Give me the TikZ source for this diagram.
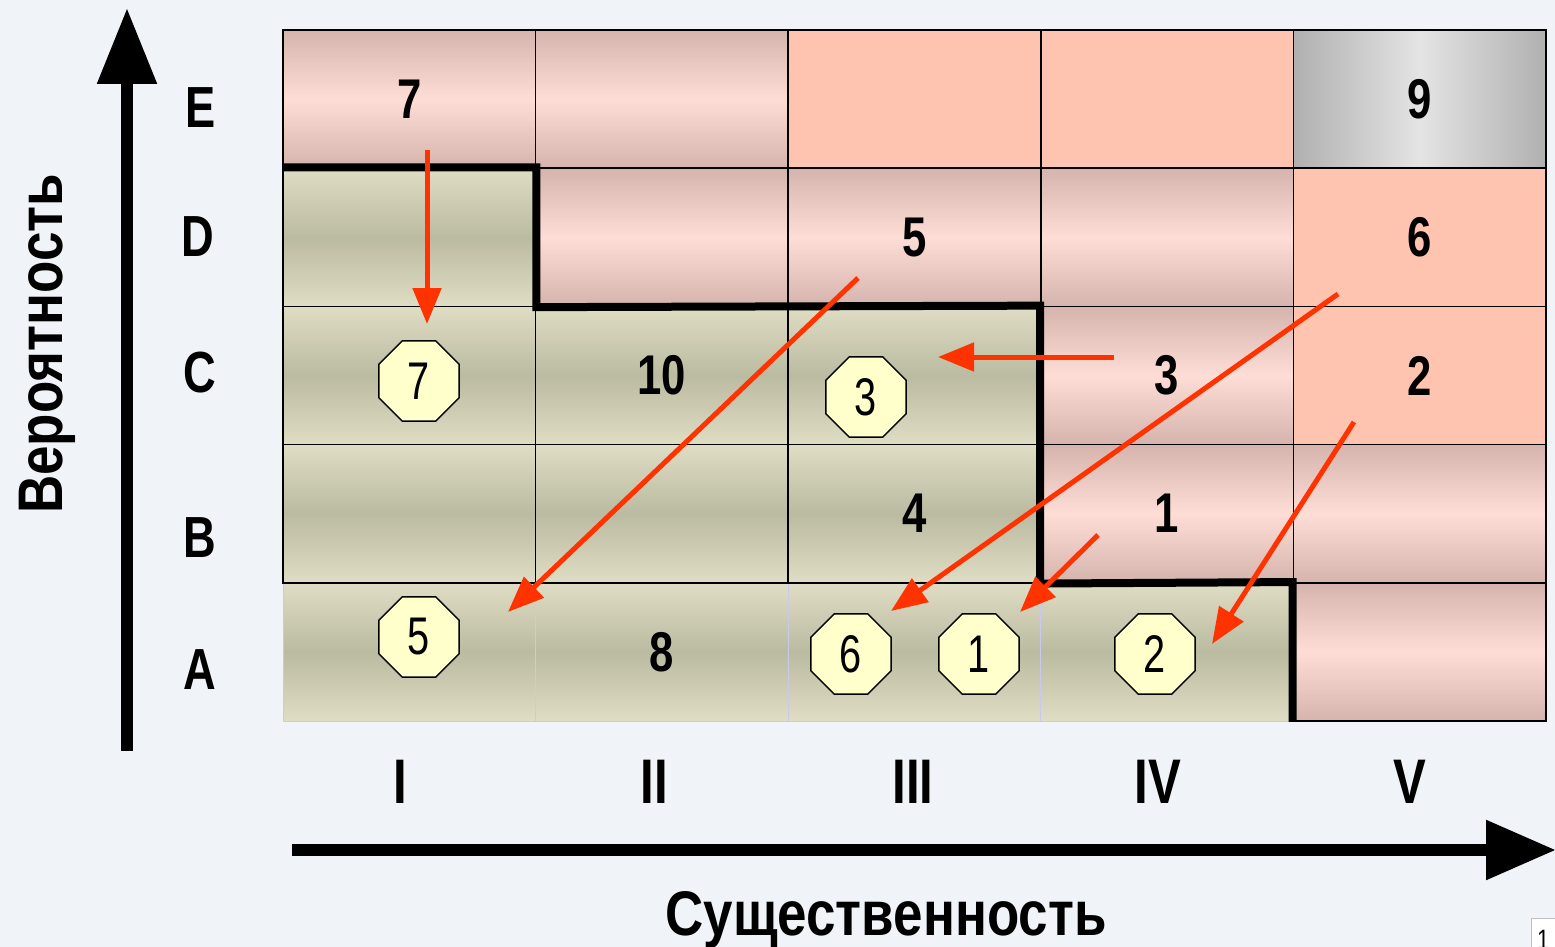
\documentclass[tikz,border=0pt]{standalone}
\usepackage{fontspec}
\setmainfont{Liberation Sans}[FakeStretch=0.78]
\newfontfamily\octfont{Liberation Sans}[FakeStretch=0.75]
\newfontfamily\titlefont{Liberation Sans}[FakeStretch=0.84]
\usetikzlibrary{shapes.geometric,arrows.meta}

\definecolor{bgcol}{RGB}{240,244,248}
\definecolor{pinkmid}{RGB}{253,221,213}
\definecolor{pinkedge}{RGB}{212,180,172}
\definecolor{salmon}{RGB}{254,196,176}
\definecolor{greenlight}{RGB}{223,221,196}
\definecolor{greendark}{RGB}{187,187,162}
\definecolor{grayedge}{RGB}{176,176,176}
\definecolor{graymid}{RGB}{228,228,228}
\definecolor{arrowred}{RGB}{255,51,0}
\definecolor{octfill}{RGB}{255,255,204}
\definecolor{lavender}{RGB}{200,200,240}

\begin{document}
\begin{tikzpicture}[x=1pt,y=-1pt]

                \tikzset{cell/.style = {rectangle,draw,line width=1.5pt,minimum width=252.6pt,minimum height=138.2pt,inner sep=0pt,font=\fontsize{56}{60}\selectfont\bfseries}}
                \tikzset{pinkcell/.style = {cell,top color=pinkedge,bottom color=pinkedge,middle color=pinkmid}}
                \tikzset{greencell/.style = {cell,top color=greenlight,bottom color=greenlight,middle color=greendark}}
                \tikzset{salmoncell/.style = {cell,fill=salmon}}
                \tikzset{graycell/.style = {cell,left color=grayedge,right color=grayedge,middle color=graymid}}
                \tikzset{octagon/.style = {regular polygon,regular polygon sides=8,draw,fill=octfill,line width=1.5pt,minimum size=87pt,inner sep=0pt,font=\fontsize{53}{56}\selectfont\octfont}}
                \tikzset{redarrow/.style = {draw=arrowred,line width=5pt,-{Triangle[length=36pt,width=28pt]}}}
                \tikzset{axis/.style = {line width=12pt}}
                \tikzset{rowlabel/.style = {font=\fontsize{58}{60}\selectfont\bfseries}}
                \tikzset{collabel/.style = {font=\fontsize{63}{66}\selectfont\bfseries}}
                \tikzset{axistitle/.style = {font=\fontsize{63}{66}\selectfont\titlefont\bfseries}}

                \fill[bgcol] (0,0) rectangle (1555,947);
                \useasboundingbox (0,0) rectangle (1555,947);

                % row A
                \node[greencell,draw=lavender,line width=1pt] (a1) at (409.3,651.9) {};
                \node[greencell,draw=lavender,line width=1pt] (a2) at (661.9,651.9) {8};
                \node[greencell,draw=lavender,line width=1pt] (a3) at (914.5,651.9) {};
                \node[greencell,draw=lavender,line width=1pt] (a4) at (1167.1,651.9) {};
                \node[pinkcell] (a5) at (1419.7,651.9) {};
                % row B
                \node[greencell] (b1) at (409.3,513.7) {};
                \node[greencell] (b2) at (661.9,513.7) {};
                \node[greencell] (b3) at (914.5,513.7) {4};
                \node[pinkcell] (b4) at (1167.1,513.7) {1};
                \node[pinkcell] (b5) at (1419.7,513.7) {};
                % row C
                \node[greencell] (c1) at (409.3,375.5) {};
                \node[greencell] (c2) at (661.9,375.5) {10};
                \node[greencell] (c3) at (914.5,375.5) {};
                \node[pinkcell] (c4) at (1167.1,375.5) {3};
                \node[salmoncell] (c5) at (1419.7,375.5) {2};
                % row D
                \node[greencell] (d1) at (409.3,237.3) {};
                \node[pinkcell] (d2) at (661.9,237.3) {};
                \node[pinkcell] (d3) at (914.5,237.3) {5};
                \node[pinkcell] (d4) at (1167.1,237.3) {};
                \node[salmoncell] (d5) at (1419.7,237.3) {6};
                % row E
                \node[pinkcell] (e1) at (409.3,99.1) {7};
                \node[pinkcell] (e2) at (661.9,99.1) {};
                \node[salmoncell] (e3) at (914.5,99.1) {};
                \node[salmoncell] (e4) at (1167.1,99.1) {};
                \node[graycell] (e5) at (1419.7,99.1) {9};

                % border of the acceptable zone
                \draw[line width=8pt] (d1.north west) -- (d1.north east) -- (d1.south east)
                    -- (c4.north west) -- (b4.south west) -- (a5.north west) -- (a5.south west);

                % octagons
                \node[octagon] (o7) at (419,381) {7};
                \node[octagon] (o3) at (866,397) {3};
                \node[octagon] (o5) at (419,637) {5};
                \node[octagon] (o6) at (851,654) {6};
                \node[octagon] (o1) at (979,654) {1};
                \node[octagon] (o2) at (1155,654) {2};

                % arrows
                \coordinate (s7) at (427,150);
                \coordinate (t7) at (427,324);
                \coordinate (s5) at (858,278);
                \coordinate (t5) at (508,612);
                \coordinate (s3) at (1114,357);
                \coordinate (t3) at (938,357);
                \coordinate (s6) at (1338,294);
                \coordinate (t6) at (891,611);
                \coordinate (s1) at (1098,535);
                \coordinate (t1) at (1020,612);
                \coordinate (s2) at (1354,422);
                \coordinate (t2) at (1212,644);

                \draw[redarrow] (s7) -- (t7);
                \draw[redarrow] (s5) -- (t5);
                \draw[redarrow] (s3) -- (t3);
                \draw[redarrow] (s6) -- (t6);
                \draw[redarrow] (s1) -- (t1);
                \draw[redarrow] (s2) -- (t2);

                % axes
                \coordinate (ybot) at (127,751);
                \coordinate (ytop) at (127,8);
                \coordinate (xleft) at (292,850);
                \coordinate (xright) at (1556,850);
                \draw[axis,-{Triangle[length=76pt,width=57pt]}] (ybot) -- (ytop);
                \draw[axis,-{Triangle[length=70pt,width=57pt]}] (xleft) -- (xright);

                \node[rowlabel] (le) at (201,108) {E};
                \node[rowlabel] (ld) at (198,237) {D};
                \node[rowlabel] (lc) at (200,373) {C};
                \node[rowlabel] (lb) at (200,538) {B};
                \node[rowlabel] (la) at (200,670) {A};

                \node[collabel] (r1) at (400,782) {I};
                \node[collabel] (r2) at (654,782) {II};
                \node[collabel] (r3) at (913,782) {III};
                \node[collabel] (r4) at (1158,782) {IV};
                \node[collabel] (r5) at (1410,782) {V};

                \node[axistitle,rotate=90,anchor=base] (ytitle) at (62,344) {Вероятность};
                \node[axistitle,anchor=base] (xtitle) at (886,935) {Существенность};

                \node[draw=gray!50,fill=white,anchor=north west,inner xsep=6pt,inner ysep=12pt,font=\fontsize{28}{30}\selectfont] (page) at (1531,918) {1};
            \end{tikzpicture}
\end{document}
